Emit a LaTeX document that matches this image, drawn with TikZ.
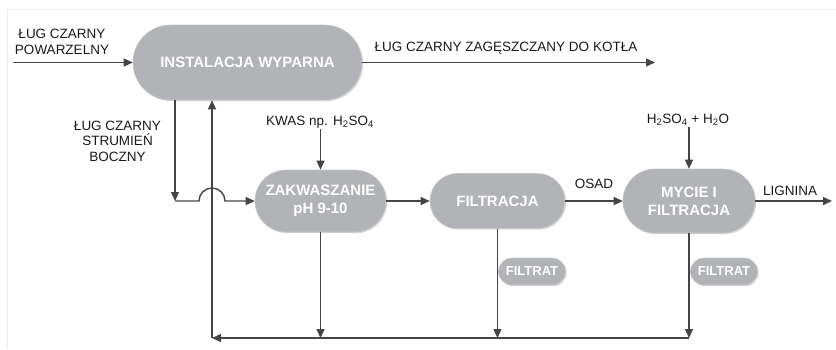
\documentclass[tikz,border=0pt]{standalone}
\usepackage{fontspec}
\setmainfont{Liberation Sans}
\usetikzlibrary{arrows.meta,shapes.misc,shadows}
\definecolor{boxfill}{HTML}{B1B3B6}
\definecolor{boxedge}{HTML}{C4C6C8}
\definecolor{linec}{HTML}{454545}
\definecolor{framec}{HTML}{EEEEEE}
\tikzset{
 proc/.style={rounded rectangle, fill=boxfill, draw=boxedge, line width=0.6pt, text=white,
   font=\bfseries\fontsize{15}{18}\selectfont, align=center, inner sep=0pt,
   drop shadow={shadow xshift=1.2pt, shadow yshift=-1.2pt, fill=black!30, opacity=0.5}},
 smallproc/.style={proc, font=\bfseries\fontsize{13}{15}\selectfont},
 lab/.style={font=\fontsize{13.5}{15.5}\selectfont, align=center, inner sep=1pt, text=black!90},
 conn/.style={draw=linec, line width=1.4pt},
 arr/.style={conn, -{Triangle[length=9pt,width=8pt]}},
}
\begin{document}
\begin{tikzpicture}[x=1pt,y=-1pt]
\useasboundingbox (0,0) rectangle (836,349);
\draw[framec, line width=0.6pt] (7,349) -- (7,9) -- (836,9);

% process boxes
\node[proc, minimum width=229pt, minimum height=75pt] (IW) at (247.5,62.5) {INSTALACJA WYPARNA};
\node[proc, minimum width=131pt, minimum height=62pt] (ZAK) at (320.5,201) {ZAKWASZANIE\\pH 9-10};
\node[proc, minimum width=135pt, minimum height=55pt] (FIL) at (497.5,201) {FILTRACJA};
\node[proc, minimum width=132pt, minimum height=64pt] (MYC) at (689,201) {MYCIE I\\FILTRACJA};
\node[smallproc, minimum width=67pt, minimum height=27pt] (F1) at (532,271.5) {FILTRAT};
\node[smallproc, minimum width=67pt, minimum height=27pt] (F2) at (724,271.5) {FILTRAT};

% labels
\node[lab] (in) at (62,42) {ŁUG CZARNY\\POWARZELNY};
\node[lab] (side) at (117.5,141) {ŁUG CZARNY\\STRUMIEŃ\\BOCZNY};
\node[lab] (out) at (506,48.5) {ŁUG CZARNY ZAGĘSZCZANY DO KOTŁA};
\node[lab] (kwas) at (320,122) {KWAS np. H\textsubscript{2}SO\textsubscript{4}};
\node[lab] (hh) at (688,120) {H\textsubscript{2}SO\textsubscript{4} + H\textsubscript{2}O};
\node[lab] (osad) at (594,184) {OSAD};
\node[lab] (lig) at (790,191) {LIGNINA};

% free ends
\coordinate (inS) at (13,62.5);
\coordinate (outE) at (655,62.5);
\coordinate (s1) at (175,201);
\coordinate (b0) at (212,338);
\coordinate (ligE) at (832,201);

% connectors
\draw[arr] (inS) -- (IW.west);
\draw[arr] (IW.east) -- (outE);
\draw[arr] (s1 |- IW.south) -- (s1);
\draw[arr] (s1) -- (199,201) arc[start angle=180,end angle=0,radius=13pt] -- (ZAK.west);
\draw[arr] (b0) -- (b0 |- IW.south);
\draw[arr] (MYC.south |- b0) -- (b0);
\draw[arr] (ZAK.south) -- (ZAK.south |- b0);
\draw[arr] (FIL.south) -- (FIL.south |- b0);
\draw[arr] (MYC.south) -- (MYC.south |- b0);
\draw[arr] (ZAK.north |- kwas.south) -- (ZAK.north);
\draw[arr] (MYC.north |- hh.south) -- (MYC.north);
\draw[arr] (ZAK.east) -- (FIL.west);
\draw[arr] (FIL.east) -- (MYC.west);
\draw[arr] (MYC.east) -- (ligE);
\end{tikzpicture}
\end{document}
